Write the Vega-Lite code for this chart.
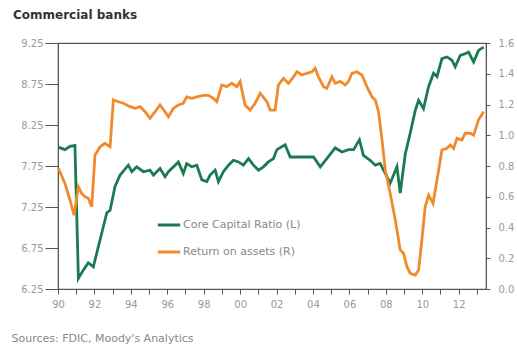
{
  "$schema": "https://vega.github.io/schema/vega-lite/v6.json",
  "width": 428,
  "height": 246,
  "autosize": {"type": "none"},
  "padding": {"left": 58, "top": 43, "right": 31, "bottom": 56},
  "background": "white",
  "config": {
    "font": "DejaVu Sans",
    "view": {"stroke": "#555", "strokeWidth": 1.2},
    "axis": {"labelColor": "#999", "labelFont": "DejaVu Sans", "labelFontSize": 10, "domainColor": "#555", "tickColor": "#555", "grid": false}
  },
  "title": {"text": "Commercial banks", "anchor": "start", "frame": "group", "dx": -45, "offset": 16, "fontSize": 12, "fontWeight": "bold", "color": "#333", "font": "DejaVu Sans"},
  "data": {"values": [
    {"t": 1990.02, "s": "Core Capital Ratio (L)", "v": 7.98},
    {"t": 1990.38, "s": "Core Capital Ratio (L)", "v": 7.95},
    {"t": 1990.66, "s": "Core Capital Ratio (L)", "v": 7.99},
    {"t": 1990.93, "s": "Core Capital Ratio (L)", "v": 8.0},
    {"t": 1991.12, "s": "Core Capital Ratio (L)", "v": 6.38},
    {"t": 1991.39, "s": "Core Capital Ratio (L)", "v": 6.48},
    {"t": 1991.66, "s": "Core Capital Ratio (L)", "v": 6.57},
    {"t": 1991.94, "s": "Core Capital Ratio (L)", "v": 6.52},
    {"t": 1992.13, "s": "Core Capital Ratio (L)", "v": 6.69},
    {"t": 1992.4, "s": "Core Capital Ratio (L)", "v": 6.93},
    {"t": 1992.68, "s": "Core Capital Ratio (L)", "v": 7.18},
    {"t": 1992.86, "s": "Core Capital Ratio (L)", "v": 7.21},
    {"t": 1993.13, "s": "Core Capital Ratio (L)", "v": 7.5},
    {"t": 1993.41, "s": "Core Capital Ratio (L)", "v": 7.64},
    {"t": 1993.86, "s": "Core Capital Ratio (L)", "v": 7.76},
    {"t": 1994.05, "s": "Core Capital Ratio (L)", "v": 7.68},
    {"t": 1994.32, "s": "Core Capital Ratio (L)", "v": 7.74},
    {"t": 1994.69, "s": "Core Capital Ratio (L)", "v": 7.68},
    {"t": 1995.05, "s": "Core Capital Ratio (L)", "v": 7.7},
    {"t": 1995.24, "s": "Core Capital Ratio (L)", "v": 7.64},
    {"t": 1995.6, "s": "Core Capital Ratio (L)", "v": 7.72},
    {"t": 1995.88, "s": "Core Capital Ratio (L)", "v": 7.62},
    {"t": 1996.06, "s": "Core Capital Ratio (L)", "v": 7.68},
    {"t": 1996.43, "s": "Core Capital Ratio (L)", "v": 7.76},
    {"t": 1996.61, "s": "Core Capital Ratio (L)", "v": 7.8},
    {"t": 1996.88, "s": "Core Capital Ratio (L)", "v": 7.66},
    {"t": 1997.07, "s": "Core Capital Ratio (L)", "v": 7.78},
    {"t": 1997.35, "s": "Core Capital Ratio (L)", "v": 7.74},
    {"t": 1997.62, "s": "Core Capital Ratio (L)", "v": 7.76},
    {"t": 1997.9, "s": "Core Capital Ratio (L)", "v": 7.58},
    {"t": 1998.17, "s": "Core Capital Ratio (L)", "v": 7.56},
    {"t": 1998.35, "s": "Core Capital Ratio (L)", "v": 7.64},
    {"t": 1998.63, "s": "Core Capital Ratio (L)", "v": 7.7},
    {"t": 1998.81, "s": "Core Capital Ratio (L)", "v": 7.56},
    {"t": 1999.08, "s": "Core Capital Ratio (L)", "v": 7.68},
    {"t": 1999.36, "s": "Core Capital Ratio (L)", "v": 7.76},
    {"t": 1999.63, "s": "Core Capital Ratio (L)", "v": 7.82},
    {"t": 1999.91, "s": "Core Capital Ratio (L)", "v": 7.8},
    {"t": 2000.18, "s": "Core Capital Ratio (L)", "v": 7.76},
    {"t": 2000.46, "s": "Core Capital Ratio (L)", "v": 7.84},
    {"t": 2000.73, "s": "Core Capital Ratio (L)", "v": 7.76},
    {"t": 2001.01, "s": "Core Capital Ratio (L)", "v": 7.7},
    {"t": 2001.28, "s": "Core Capital Ratio (L)", "v": 7.74},
    {"t": 2001.55, "s": "Core Capital Ratio (L)", "v": 7.8},
    {"t": 2001.83, "s": "Core Capital Ratio (L)", "v": 7.84},
    {"t": 2002.02, "s": "Core Capital Ratio (L)", "v": 7.95},
    {"t": 2002.47, "s": "Core Capital Ratio (L)", "v": 8.01},
    {"t": 2002.75, "s": "Core Capital Ratio (L)", "v": 7.86},
    {"t": 2003.12, "s": "Core Capital Ratio (L)", "v": 7.86},
    {"t": 2003.66, "s": "Core Capital Ratio (L)", "v": 7.86},
    {"t": 2004.03, "s": "Core Capital Ratio (L)", "v": 7.86},
    {"t": 2004.4, "s": "Core Capital Ratio (L)", "v": 7.74},
    {"t": 2004.76, "s": "Core Capital Ratio (L)", "v": 7.84},
    {"t": 2005.22, "s": "Core Capital Ratio (L)", "v": 7.97},
    {"t": 2005.59, "s": "Core Capital Ratio (L)", "v": 7.92},
    {"t": 2005.95, "s": "Core Capital Ratio (L)", "v": 7.95},
    {"t": 2006.23, "s": "Core Capital Ratio (L)", "v": 7.95},
    {"t": 2006.55, "s": "Core Capital Ratio (L)", "v": 8.07},
    {"t": 2006.77, "s": "Core Capital Ratio (L)", "v": 7.88},
    {"t": 2007.14, "s": "Core Capital Ratio (L)", "v": 7.82},
    {"t": 2007.42, "s": "Core Capital Ratio (L)", "v": 7.76},
    {"t": 2007.69, "s": "Core Capital Ratio (L)", "v": 7.78},
    {"t": 2007.97, "s": "Core Capital Ratio (L)", "v": 7.66},
    {"t": 2008.24, "s": "Core Capital Ratio (L)", "v": 7.54},
    {"t": 2008.61, "s": "Core Capital Ratio (L)", "v": 7.74},
    {"t": 2008.79, "s": "Core Capital Ratio (L)", "v": 7.42},
    {"t": 2009.07, "s": "Core Capital Ratio (L)", "v": 7.9},
    {"t": 2009.34, "s": "Core Capital Ratio (L)", "v": 8.15},
    {"t": 2009.62, "s": "Core Capital Ratio (L)", "v": 8.43},
    {"t": 2009.8, "s": "Core Capital Ratio (L)", "v": 8.55},
    {"t": 2010.07, "s": "Core Capital Ratio (L)", "v": 8.45},
    {"t": 2010.35, "s": "Core Capital Ratio (L)", "v": 8.72},
    {"t": 2010.62, "s": "Core Capital Ratio (L)", "v": 8.88},
    {"t": 2010.81, "s": "Core Capital Ratio (L)", "v": 8.84},
    {"t": 2011.08, "s": "Core Capital Ratio (L)", "v": 9.06},
    {"t": 2011.36, "s": "Core Capital Ratio (L)", "v": 9.08},
    {"t": 2011.63, "s": "Core Capital Ratio (L)", "v": 9.04},
    {"t": 2011.81, "s": "Core Capital Ratio (L)", "v": 8.96},
    {"t": 2012.09, "s": "Core Capital Ratio (L)", "v": 9.1},
    {"t": 2012.36, "s": "Core Capital Ratio (L)", "v": 9.12},
    {"t": 2012.54, "s": "Core Capital Ratio (L)", "v": 9.14},
    {"t": 2012.82, "s": "Core Capital Ratio (L)", "v": 9.02},
    {"t": 2013.09, "s": "Core Capital Ratio (L)", "v": 9.16},
    {"t": 2013.37, "s": "Core Capital Ratio (L)", "v": 9.2},
    {"t": 1990.02, "s": "Return on assets (R)", "v": 0.785},
    {"t": 1990.38, "s": "Return on assets (R)", "v": 0.687},
    {"t": 1990.66, "s": "Return on assets (R)", "v": 0.579},
    {"t": 1990.88, "s": "Return on assets (R)", "v": 0.481},
    {"t": 1991.12, "s": "Return on assets (R)", "v": 0.665},
    {"t": 1991.3, "s": "Return on assets (R)", "v": 0.622},
    {"t": 1991.48, "s": "Return on assets (R)", "v": 0.6},
    {"t": 1991.66, "s": "Return on assets (R)", "v": 0.59},
    {"t": 1991.85, "s": "Return on assets (R)", "v": 0.535},
    {"t": 1992.03, "s": "Return on assets (R)", "v": 0.87},
    {"t": 1992.31, "s": "Return on assets (R)", "v": 0.925},
    {"t": 1992.58, "s": "Return on assets (R)", "v": 0.948},
    {"t": 1992.86, "s": "Return on assets (R)", "v": 0.925},
    {"t": 1993.04, "s": "Return on assets (R)", "v": 1.23},
    {"t": 1993.31, "s": "Return on assets (R)", "v": 1.218},
    {"t": 1993.59, "s": "Return on assets (R)", "v": 1.208},
    {"t": 1993.96, "s": "Return on assets (R)", "v": 1.186},
    {"t": 1994.23, "s": "Return on assets (R)", "v": 1.175},
    {"t": 1994.51, "s": "Return on assets (R)", "v": 1.186},
    {"t": 1994.78, "s": "Return on assets (R)", "v": 1.153},
    {"t": 1995.05, "s": "Return on assets (R)", "v": 1.11},
    {"t": 1995.33, "s": "Return on assets (R)", "v": 1.153},
    {"t": 1995.6, "s": "Return on assets (R)", "v": 1.197},
    {"t": 1995.88, "s": "Return on assets (R)", "v": 1.153},
    {"t": 1996.06, "s": "Return on assets (R)", "v": 1.12},
    {"t": 1996.34, "s": "Return on assets (R)", "v": 1.175},
    {"t": 1996.61, "s": "Return on assets (R)", "v": 1.197},
    {"t": 1996.88, "s": "Return on assets (R)", "v": 1.208},
    {"t": 1997.07, "s": "Return on assets (R)", "v": 1.25},
    {"t": 1997.35, "s": "Return on assets (R)", "v": 1.24},
    {"t": 1997.62, "s": "Return on assets (R)", "v": 1.25},
    {"t": 1997.98, "s": "Return on assets (R)", "v": 1.26},
    {"t": 1998.26, "s": "Return on assets (R)", "v": 1.26},
    {"t": 1998.53, "s": "Return on assets (R)", "v": 1.24},
    {"t": 1998.72, "s": "Return on assets (R)", "v": 1.218},
    {"t": 1998.99, "s": "Return on assets (R)", "v": 1.327},
    {"t": 1999.26, "s": "Return on assets (R)", "v": 1.316},
    {"t": 1999.54, "s": "Return on assets (R)", "v": 1.338},
    {"t": 1999.82, "s": "Return on assets (R)", "v": 1.316},
    {"t": 2000.0, "s": "Return on assets (R)", "v": 1.35},
    {"t": 2000.27, "s": "Return on assets (R)", "v": 1.197},
    {"t": 2000.55, "s": "Return on assets (R)", "v": 1.164},
    {"t": 2000.82, "s": "Return on assets (R)", "v": 1.208},
    {"t": 2001.1, "s": "Return on assets (R)", "v": 1.273},
    {"t": 2001.47, "s": "Return on assets (R)", "v": 1.218},
    {"t": 2001.65, "s": "Return on assets (R)", "v": 1.164},
    {"t": 2001.92, "s": "Return on assets (R)", "v": 1.164},
    {"t": 2002.1, "s": "Return on assets (R)", "v": 1.327},
    {"t": 2002.38, "s": "Return on assets (R)", "v": 1.37},
    {"t": 2002.65, "s": "Return on assets (R)", "v": 1.338},
    {"t": 2002.93, "s": "Return on assets (R)", "v": 1.38},
    {"t": 2003.12, "s": "Return on assets (R)", "v": 1.413},
    {"t": 2003.39, "s": "Return on assets (R)", "v": 1.392},
    {"t": 2003.66, "s": "Return on assets (R)", "v": 1.403},
    {"t": 2003.94, "s": "Return on assets (R)", "v": 1.413},
    {"t": 2004.12, "s": "Return on assets (R)", "v": 1.435},
    {"t": 2004.3, "s": "Return on assets (R)", "v": 1.38},
    {"t": 2004.58, "s": "Return on assets (R)", "v": 1.316},
    {"t": 2004.76, "s": "Return on assets (R)", "v": 1.305},
    {"t": 2005.04, "s": "Return on assets (R)", "v": 1.38},
    {"t": 2005.22, "s": "Return on assets (R)", "v": 1.338},
    {"t": 2005.49, "s": "Return on assets (R)", "v": 1.35},
    {"t": 2005.77, "s": "Return on assets (R)", "v": 1.327},
    {"t": 2005.95, "s": "Return on assets (R)", "v": 1.35},
    {"t": 2006.14, "s": "Return on assets (R)", "v": 1.403},
    {"t": 2006.41, "s": "Return on assets (R)", "v": 1.413},
    {"t": 2006.69, "s": "Return on assets (R)", "v": 1.392},
    {"t": 2006.96, "s": "Return on assets (R)", "v": 1.316},
    {"t": 2007.24, "s": "Return on assets (R)", "v": 1.25},
    {"t": 2007.42, "s": "Return on assets (R)", "v": 1.23},
    {"t": 2007.6, "s": "Return on assets (R)", "v": 1.153},
    {"t": 2007.79, "s": "Return on assets (R)", "v": 0.97},
    {"t": 2007.97, "s": "Return on assets (R)", "v": 0.774},
    {"t": 2008.24, "s": "Return on assets (R)", "v": 0.622},
    {"t": 2008.52, "s": "Return on assets (R)", "v": 0.449},
    {"t": 2008.79, "s": "Return on assets (R)", "v": 0.254},
    {"t": 2008.97, "s": "Return on assets (R)", "v": 0.232},
    {"t": 2009.16, "s": "Return on assets (R)", "v": 0.145},
    {"t": 2009.34, "s": "Return on assets (R)", "v": 0.102},
    {"t": 2009.62, "s": "Return on assets (R)", "v": 0.091},
    {"t": 2009.8, "s": "Return on assets (R)", "v": 0.124},
    {"t": 2009.98, "s": "Return on assets (R)", "v": 0.319},
    {"t": 2010.16, "s": "Return on assets (R)", "v": 0.535},
    {"t": 2010.35, "s": "Return on assets (R)", "v": 0.611},
    {"t": 2010.59, "s": "Return on assets (R)", "v": 0.557},
    {"t": 2010.81, "s": "Return on assets (R)", "v": 0.709},
    {"t": 2011.08, "s": "Return on assets (R)", "v": 0.904},
    {"t": 2011.36, "s": "Return on assets (R)", "v": 0.915},
    {"t": 2011.54, "s": "Return on assets (R)", "v": 0.937},
    {"t": 2011.72, "s": "Return on assets (R)", "v": 0.915},
    {"t": 2011.91, "s": "Return on assets (R)", "v": 0.98},
    {"t": 2012.18, "s": "Return on assets (R)", "v": 0.969},
    {"t": 2012.36, "s": "Return on assets (R)", "v": 1.013},
    {"t": 2012.64, "s": "Return on assets (R)", "v": 1.013},
    {"t": 2012.82, "s": "Return on assets (R)", "v": 1.0},
    {"t": 2013.09, "s": "Return on assets (R)", "v": 1.1},
    {"t": 2013.37, "s": "Return on assets (R)", "v": 1.153}
  ]},
  "encoding": {
    "x": {"field": "t", "type": "quantitative",
      "scale": {"domain": [1990, 2013.5], "nice": false, "zero": false},
      "axis": {"values": [1990,1991,1992,1993,1994,1995,1996,1997,1998,1999,2000,2001,2002,2003,2004,2005,2006,2007,2008,2009,2010,2011,2012,2013],
        "labelExpr": "datum.value % 2 === 0 ? substring(toString(datum.value), 2, 4) : ''",
        "labelOverlap": false, "labelFlush": false, "tickSize": 5, "labelPadding": 5,
        "title": "Sources: FDIC, Moody's Analytics", "titleAnchor": "start", "titleAlign": "left", "titleX": -47, "titleY": 52, "titleBaseline": "alphabetic", "titleFontSize": 11, "titleFontWeight": "normal", "titleColor": "#888", "titleFont": "DejaVu Sans"}},
    "color": {"field": "s", "type": "nominal",
      "scale": {"domain": ["Core Capital Ratio (L)", "Return on assets (R)"], "range": ["#1c7a52", "#f08a2c"]},
      "legend": {"title": null, "orient": "none", "legendX": 98, "legendY": 169, "symbolType": "stroke", "symbolSize": 500, "symbolStrokeWidth": 3, "labelFontSize": 11, "labelColor": "#888", "labelOffset": 1, "rowPadding": 8, "padding": 0, "labelFont": "DejaVu Sans"}}
  },
  "layer": [
    {
      "transform": [{"filter": "datum.s === 'Core Capital Ratio (L)'"}],
      "mark": {"type": "line", "strokeWidth": 2.8},
      "encoding": {
        "y": {"field": "v", "type": "quantitative",
          "scale": {"domain": [6.25, 9.25], "nice": false, "zero": false},
          "axis": {"title": null, "values": [6.25, 6.75, 7.25, 7.75, 8.25, 8.75, 9.25], "format": ".2f", "tickSize": 13, "labelPadding": 2}}
      }
    },
    {
      "transform": [{"filter": "datum.s === 'Return on assets (R)'"}],
      "mark": {"type": "line", "strokeWidth": 2.8},
      "encoding": {
        "y": {"field": "v", "type": "quantitative",
          "scale": {"domain": [0, 1.6], "nice": false, "zero": false},
          "axis": {"title": null, "orient": "right", "values": [0, 0.2, 0.4, 0.6, 0.8, 1.0, 1.2, 1.4, 1.6], "format": ".1f", "tickSize": 4, "labelPadding": 8}}
      }
    }
  ],
  "resolve": {"scale": {"y": "independent"}}
}
